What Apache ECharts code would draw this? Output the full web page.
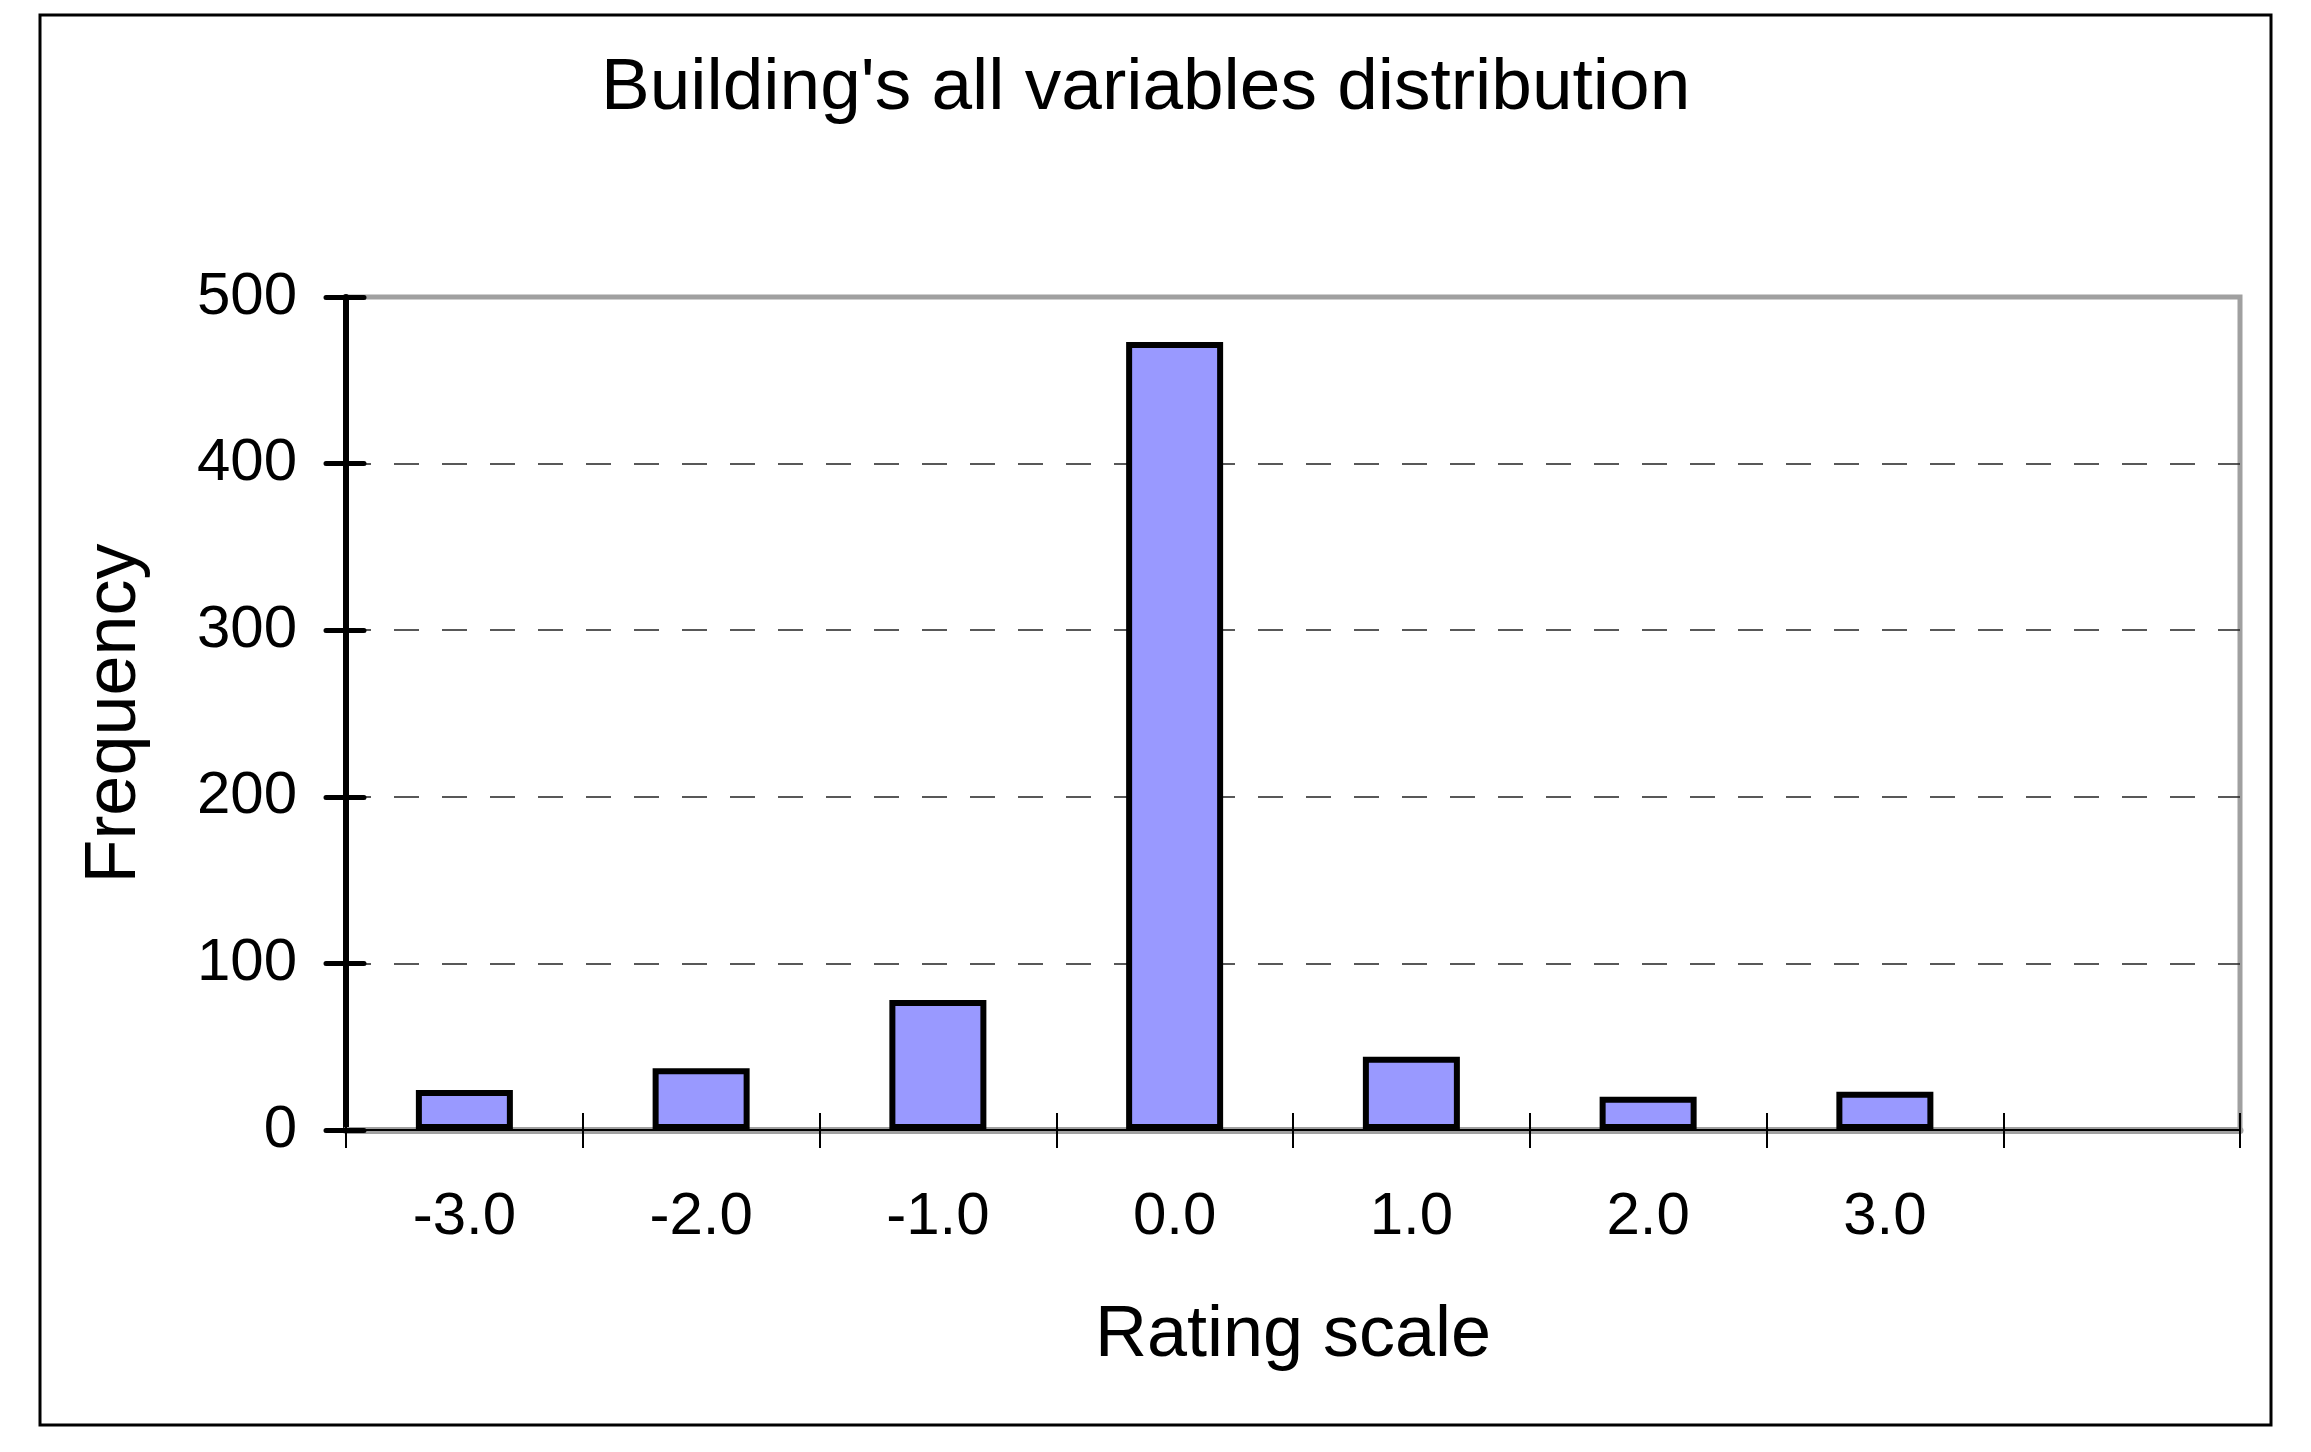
<!DOCTYPE html>
<html>
<head>
<meta charset="utf-8">
<title>Building's all variables distribution</title>
<script src="https://cdn.jsdelivr.net/npm/echarts@6/dist/echarts.min.js"></script>
<style>
  html, body { margin: 0; padding: 0; background: #fff; }
  #main { width: 2311px; height: 1452px; }
</style>
</head>
<body>
<div id="main"></div>
<script type="text/javascript">
// data
var categories = ['-3.0', '-2.0', '-1.0', '0.0', '1.0', '2.0', '3.0', ''];
var frequency = [24, 37, 78, 473, 44, 20, 23, null];
var yTicks = { min: 0, max: 500, interval: 100 };

var font = 'Liberation Sans, Arial, Helvetica, sans-serif';

var myChart = echarts.init(document.getElementById('main'), null, {
  width: 2311,
  height: 1452
});

var option = {
  animation: false,
  backgroundColor: '#fff',
  title: {
    text: "Building's all variables distribution",
    left: 596,
    top: 47,
    textStyle: { fontFamily: font, fontSize: 73, fontWeight: 'normal', color: '#000', lineHeight: 73 }
  },
  graphic: [{
    type: 'rect',
    shape: { x: 40, y: 15, width: 2231, height: 1410 },
    style: { fill: 'none', stroke: '#000', lineWidth: 3 },
    silent: true
  }],
  grid: {
    left: 346, right: 71, top: 297, bottom: 322,
    show: true,
    borderColor: '#a0a0a0',
    borderWidth: 5
  },
  xAxis: [{
    type: 'category',
    data: categories,
    position: 'bottom',
    boundaryGap: true,
    name: 'Rating scale',
    nameLocation: 'middle',
    nameGap: 170,
    nameTextStyle: { fontFamily: font, fontSize: 72, color: '#000' },
    axisLine: { lineStyle: { color: '#a0a0a0', width: 7 } },
    axisTick: { show: true, interval: 0, length: 18, lineStyle: { color: '#000', width: 2 } },
    axisLabel: { interval: 0, margin: 57, fontFamily: font, fontSize: 60, color: '#000' },
    splitLine: { show: false }
  }, {
    type: 'category',
    data: categories,
    position: 'bottom',
    boundaryGap: true,
    axisLine: { lineStyle: { color: '#000', width: 2 } },
    axisTick: { show: true, inside: true, interval: 0, length: 17, lineStyle: { color: '#000', width: 2 } },
    axisLabel: { show: false },
    splitLine: { show: false }
  }],
  yAxis: [{
    type: 'value',
    position: 'left',
    min: yTicks.min,
    max: yTicks.max,
    interval: yTicks.interval,
    name: 'Frequency',
    nameLocation: 'middle',
    nameGap: 195,
    nameTextStyle: { fontFamily: font, fontSize: 72, color: '#000' },
    axisLine: { show: true, lineStyle: { color: '#000', width: 6 } },
    axisTick: { show: true, length: 20, lineStyle: { color: '#000', width: 5, cap: 'round' } },
    axisLabel: { margin: 49, fontFamily: font, fontSize: 60, color: '#000' },
    splitLine: {
      show: true,
      showMinLine: false,
      showMaxLine: false,
      lineStyle: { color: '#222', width: 1.5, type: [25, 23] }
    }
  }, {
    type: 'value',
    position: 'left',
    min: yTicks.min,
    max: yTicks.max,
    interval: yTicks.interval,
    axisLine: { show: false },
    axisTick: { show: true, inside: true, length: 18, lineStyle: { color: '#000', width: 5, cap: 'round' } },
    axisLabel: { show: false },
    splitLine: { show: false }
  }],
  series: [{
    type: 'bar',
    name: 'Frequency',
    xAxisIndex: 0,
    yAxisIndex: 0,
    data: frequency,
    barWidth: 97,
    itemStyle: { color: '#9999ff', borderColor: '#000', borderWidth: 6 }
  }]
};
myChart.setOption(option);
</script>
</body>
</html>
